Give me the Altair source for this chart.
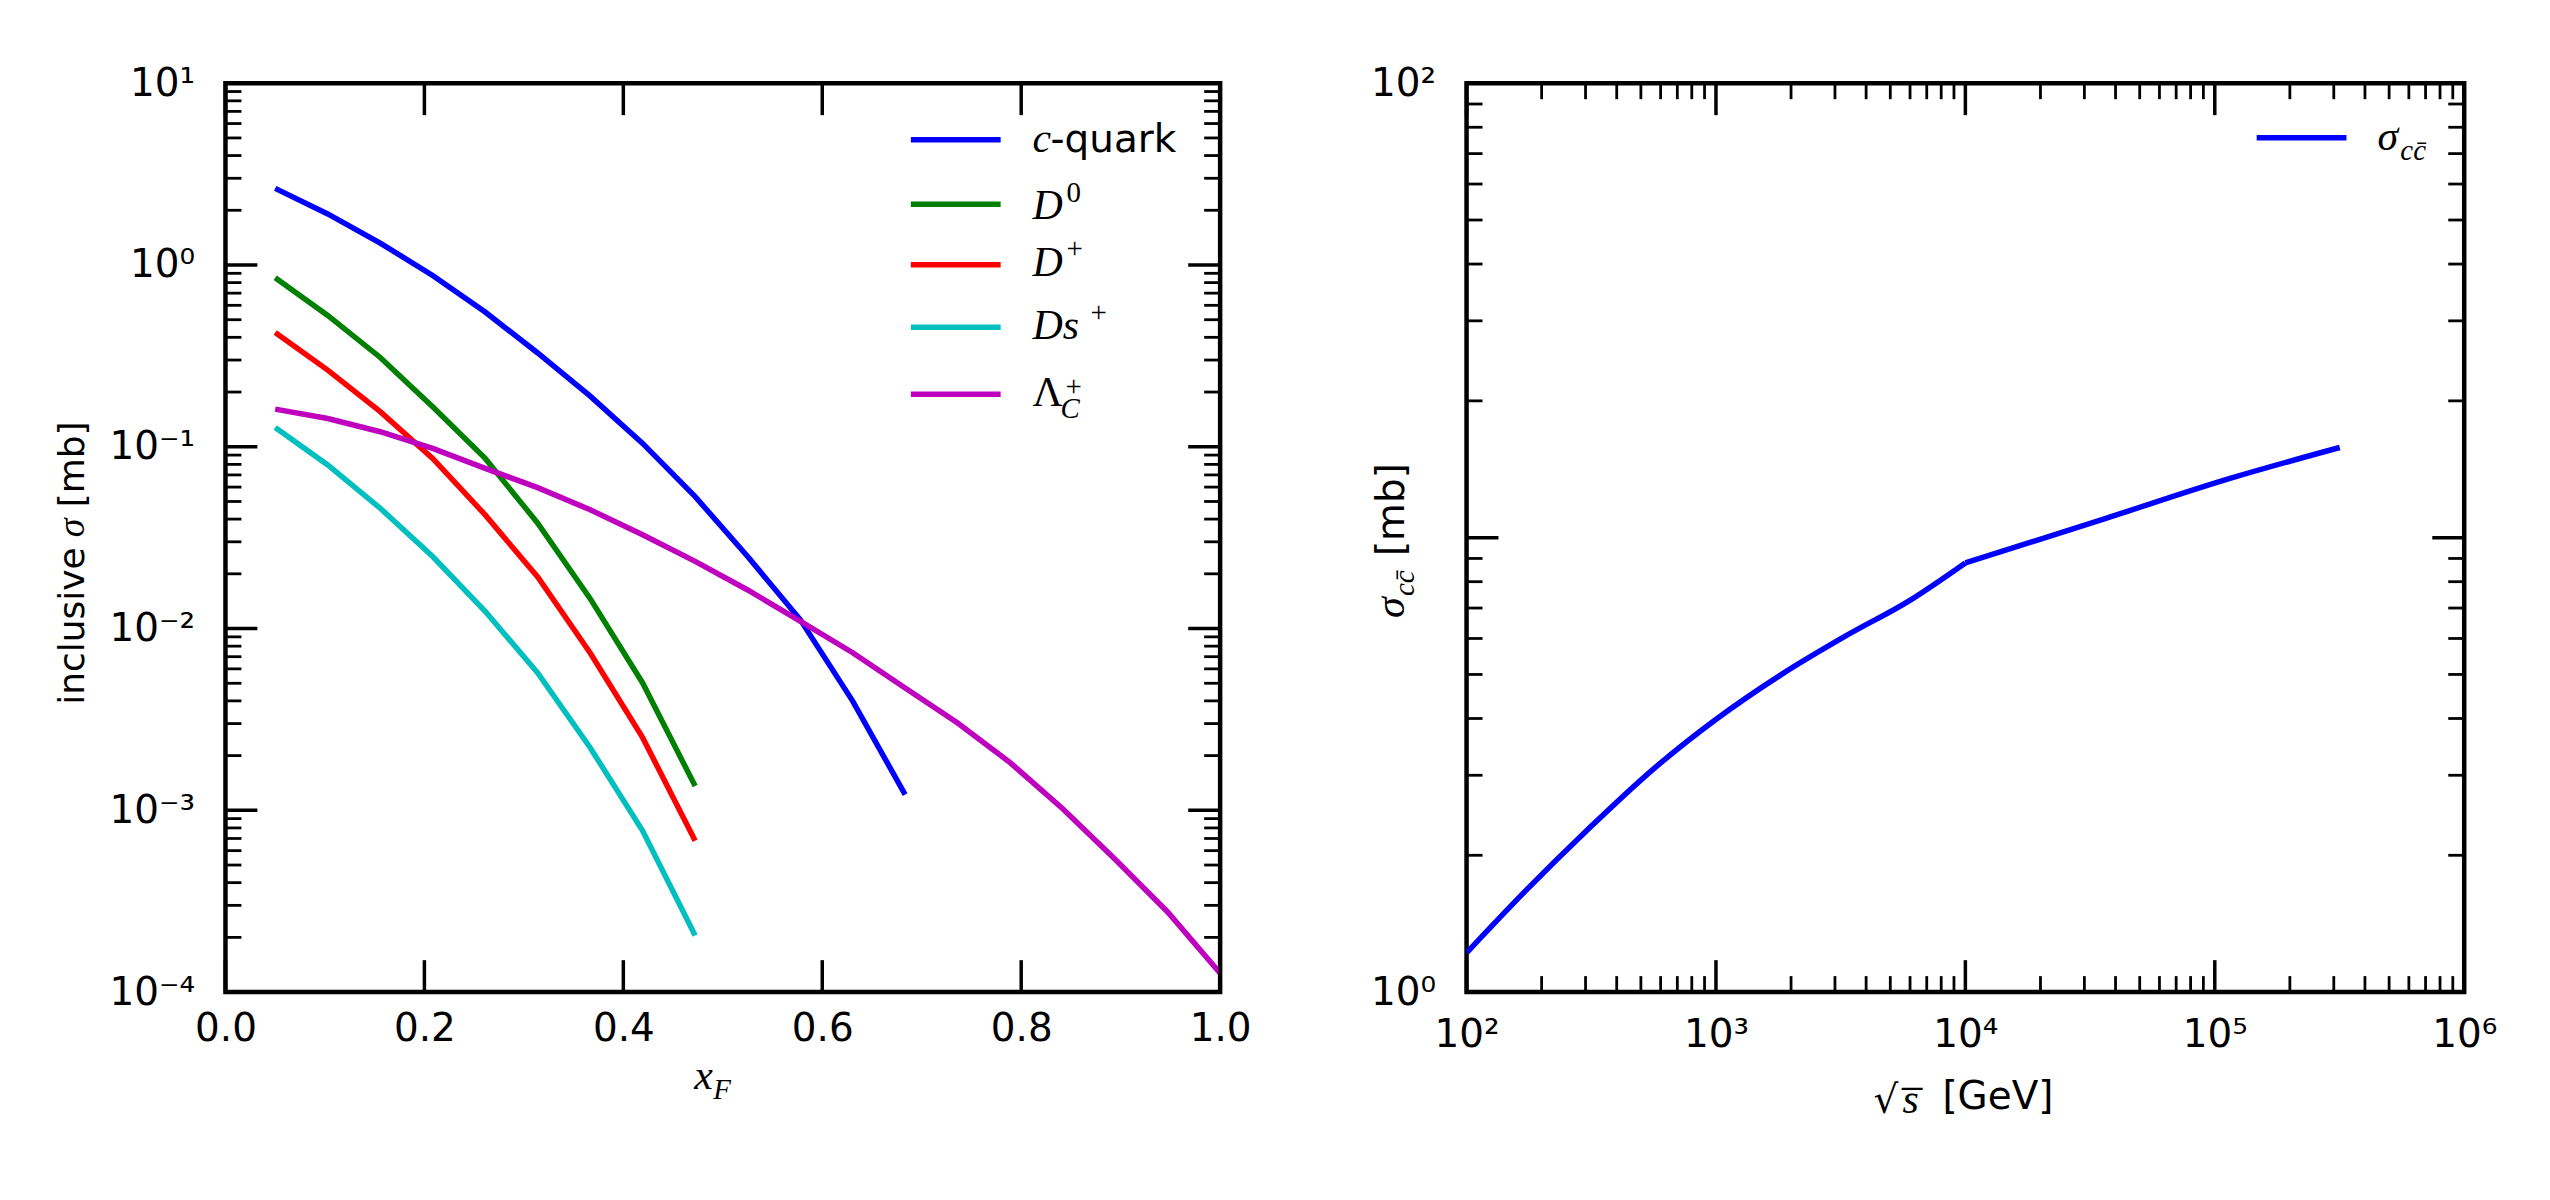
import altair as alt
import pandas as pd

# ---------------- data ----------------
xf = [0.0500, 0.1028, 0.1556, 0.2083, 0.2611, 0.3139, 0.3667, 0.4194, 0.4722,
      0.5250, 0.5778, 0.6306, 0.6833, 0.7361, 0.7889, 0.8417, 0.8944, 0.9472, 1.0000]

c_quark = [2.64, 1.91, 1.32, 0.876, 0.551, 0.328, 0.190, 0.1044, 0.0532,
           0.0249, 0.0112, 0.00399, 0.00122]
d_zero = [0.851, 0.528, 0.310, 0.166, 0.0863, 0.038, 0.0146, 0.00502, 0.00136]
d_plus = [0.425, 0.264, 0.156, 0.0863, 0.0422, 0.0192, 0.00734, 0.00251, 0.00068]
ds_plus = [0.1276, 0.0794, 0.0459, 0.0249, 0.01245, 0.0057, 0.00221, 0.000771, 0.000205]
lambda_c = [0.161, 0.143, 0.121, 0.098, 0.076, 0.0596, 0.045, 0.0328, 0.0234, 0.0163,
            0.0110, 0.00736, 0.00471, 0.00302, 0.00183, 0.00102, 0.000538, 0.000276, 0.000127]

series_names = ["c-quark", "D0", "D+", "Ds+", "LambdaC+"]
series_values = [c_quark, d_zero, d_plus, ds_plus, lambda_c]
series_colors = ["#0000ff", "#008000", "#ff0000", "#00bfbf", "#bf00bf"]

sqrt_s = [100, 170, 307, 555, 1005, 1820, 3300, 5970, 10000, 35300, 116000, 317000]
sigma_cc = [1.22, 1.657, 2.282, 3.08, 3.99, 4.99, 6.07, 7.27, 8.80, 10.96, 13.52, 15.79]
# the curve changes slope at 10^4 GeV: below and above are drawn as two smooth pieces
kink_at = 10000

# tick positions
left_x_major = [0.0, 0.2, 0.4, 0.6, 0.8, 1.0]
left_y_major = [1e-4, 1e-3, 1e-2, 1e-1, 1e0, 1e1]
left_y_minor = [k * 10.0 ** d for d in range(-4, 1) for k in range(2, 10)]
right_x_major = [1e2, 1e3, 1e4, 1e5, 1e6]
right_x_minor = [k * 10.0 ** d for d in range(2, 6) for k in range(2, 10)]
right_y_major = [1e0, 1e1, 1e2]
right_y_labelled = [1e0, 1e2]
right_y_minor = [k * 10.0 ** d for d in range(0, 2) for k in range(2, 10)]

# ---------------- layout ----------------
W1, W2, H = 997, 1000, 911
GAP = 247
LEFT, TOP, RIGHT, BOTTOM = 223, 79, 83, 210
MAJ, MIN = 32, 16
LW = 5.5
SANS = "DejaVu Sans"
SERIF = "Liberation Serif"
FS = 39
MFS = 42
SFS = 29

SUP = "['⁻⁴','⁻³','⁻²','⁻¹','⁰','¹','²','³','⁴','⁵','⁶'][round(log(datum.value)/LN10)+4]"
POW_LABEL = "'10' + " + SUP


def axis(values, pad, label_expr=None, fmt=None):
    kw = dict(values=values, ticks=False, tickSize=0, domain=False, grid=False,
              labelFont=SANS, labelFontSize=FS, labelColor="black", labelPadding=pad,
              title=None, labelFlush=False, labelOverlap=False, labelBound=False)
    if label_expr:
        kw["labelExpr"] = label_expr
    if fmt:
        kw["format"] = fmt
    return alt.Axis(**kw)


def tick_rules(values, scale, ax, channel, length, width, w, h):
    df = pd.DataFrame({"v": values})
    layers = []
    if channel == "y":
        for x0, x1 in [(0, length), (w - length, w)]:
            layers.append(alt.Chart(df).mark_rule(color="black", strokeWidth=width).encode(
                y=alt.Y("v:Q", scale=scale, axis=ax), x=alt.value(x0), x2=alt.value(x1)))
    else:
        for y0, y1 in [(h - length, h), (0, length)]:
            layers.append(alt.Chart(df).mark_rule(color="black", strokeWidth=width).encode(
                x=alt.X("v:Q", scale=scale, axis=ax), y=alt.value(y0), y2=alt.value(y1)))
    return layers


def txt(text, x, y, font=SANS, size=FS, style="normal", angle=0):
    return alt.Chart(pd.DataFrame({"t": [text]})).mark_text(
        font=font, fontSize=size, fontStyle=style, angle=angle, align="left",
        baseline="alphabetic", color="black").encode(
        x=alt.value(x), y=alt.value(y), text="t:N")


def handle(x0, x1, y, color):
    return alt.Chart(pd.DataFrame({"c": [color]})).mark_rule(
        color=color, strokeWidth=LW).encode(x=alt.value(x0), x2=alt.value(x1), y=alt.value(y))


def frame_edge(x0, x1, y):
    # invisible rule that fixes the outer margin of the figure
    return alt.Chart(pd.DataFrame({"c": [0]})).mark_rule(
        strokeOpacity=0, strokeWidth=0.01).encode(x=alt.value(x0), x2=alt.value(x1), y=alt.value(y))


# ---------------- left panel ----------------
rows = []
for name, vals in zip(series_names, series_values):
    for x, v in zip(xf, vals):
        rows.append({"series": name, "xf": x, "sigma": v})
left_df = pd.DataFrame(rows)

lx = alt.Scale(domain=[0, 1], nice=False, zero=False)
ly = alt.Scale(type="log", domain=[1e-4, 10], nice=False)
lx_axis = axis(left_x_major, 18, fmt=".1f")
ly_axis = axis(left_y_major, 31, label_expr=POW_LABEL)

left_lines = alt.Chart(left_df).mark_line(strokeWidth=LW, clip=True).encode(
    x=alt.X("xf:Q", scale=lx, axis=lx_axis),
    y=alt.Y("sigma:Q", scale=ly, axis=ly_axis),
    color=alt.Color("series:N", scale=alt.Scale(domain=series_names, range=series_colors), legend=None),
    detail="series:N",
)

left_layers = [left_lines, frame_edge(-LEFT, W1, -TOP)]
left_layers += tick_rules(left_y_major, ly, ly_axis, "y", MAJ, 3.5, W1, H)
left_layers += tick_rules(left_y_minor, ly, ly_axis, "y", MIN, 2.8, W1, H)
left_layers += tick_rules(left_x_major, lx, lx_axis, "x", MAJ, 3.5, W1, H)

# legend
lg_rows = [56.7, 121.3, 182.0, 244.7, 311.7]
for yy, col in zip(lg_rows, series_colors):
    left_layers.append(handle(687, 777, yy, col))
left_layers += [
    txt("c", 809, 69, SERIF, MFS, "italic"),
    txt("-quark", 827, 69),
    txt("D", 809, 136, SERIF, MFS, "italic"),
    txt("0", 843, 119, SERIF, SFS),
    txt("D", 809, 193, SERIF, MFS, "italic"),
    txt("+", 843, 175, SERIF, SFS),
    txt("Ds", 809, 256, SERIF, MFS, "italic"),
    txt("+", 867, 239, SERIF, SFS),
    txt("Λ", 809, 324, SERIF, MFS),
    txt("C", 837, 336, SERIF, SFS, "italic"),
    txt("+", 842, 314, SERIF, SFS),
]

# axis titles
left_layers += [
    txt("x", 470, 1008, SERIF, MFS, "italic"),
    txt("F", 489, 1018, SERIF, SFS, "italic"),
    txt("inclusive", -142, 623, SANS, 36, angle=270),
    txt("σ", -142, 455, SERIF, 38, "italic", angle=270),
    txt("[mb]", -142, 425, SANS, 36, angle=270),
]

left = alt.layer(*left_layers).properties(width=W1, height=H)

# ---------------- right panel ----------------
right_df = pd.DataFrame({"sqrt_s": sqrt_s, "sigma": sigma_cc})
right_df = pd.concat([
    right_df[right_df.sqrt_s <= kink_at].assign(piece="low"),
    right_df[right_df.sqrt_s >= kink_at].assign(piece="high"),
])
rx = alt.Scale(type="log", domain=[1e2, 1e6], nice=False)
ry = alt.Scale(type="log", domain=[1, 100], nice=False)
rx_axis = axis(right_x_major, 24, label_expr=POW_LABEL)
ry_axis = axis(right_y_labelled, 31, label_expr=POW_LABEL)

right_line = alt.Chart(right_df).mark_line(
    strokeWidth=LW, color="#0000ff", clip=True, interpolate="monotone").encode(
    x=alt.X("sqrt_s:Q", scale=rx, axis=rx_axis),
    y=alt.Y("sigma:Q", scale=ry, axis=ry_axis),
    detail="piece:N",
)

right_layers = [right_line, frame_edge(0, W2 + RIGHT, H + BOTTOM)]
right_layers += tick_rules(right_y_major, ry, ry_axis, "y", MAJ, 3.5, W2, H)
right_layers += tick_rules(right_y_minor, ry, ry_axis, "y", MIN, 2.8, W2, H)
right_layers += tick_rules(right_x_major, rx, rx_axis, "x", MAJ, 3.5, W2, H)
right_layers += tick_rules(right_x_minor, rx, rx_axis, "x", MIN, 2.8, W2, H)

right_layers += [
    handle(792, 882, 54.7, "#0000ff"),
    txt("σ", 913, 67, SERIF, MFS, "italic"),
    txt("cc̄", 936, 77, SERIF, SFS, "italic"),
    # axis titles
    txt("√", 408, 1032, SANS, FS),
    txt("s̅", 437, 1032, SERIF, MFS, "italic"),
    txt("[GeV]", 477, 1028, SANS, FS),
    txt("σ", -63, 536, SERIF, MFS, "italic", angle=270),
    txt("cc̄", -53, 514, SERIF, SFS, "italic", angle=270),
    txt("[mb]", -63, 474, SANS, FS, angle=270),
]

right = alt.layer(*right_layers).properties(width=W2, height=H)

chart = alt.hconcat(left, right, spacing=GAP, bounds="flush").properties(
    padding=0,
    background="white",
).configure_view(stroke="black", strokeWidth=4.5)

chart.save("out.html", embed_options={"renderer": "svg", "actions": False})
